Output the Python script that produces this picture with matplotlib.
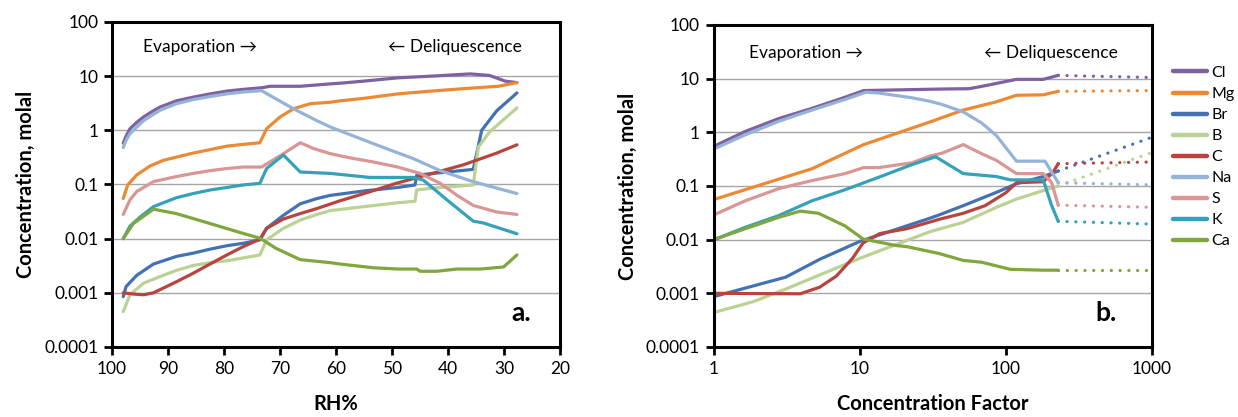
import matplotlib
matplotlib.use("Agg")
import matplotlib.pyplot as plt
from matplotlib.ticker import FixedLocator, FixedFormatter, NullLocator
from matplotlib.lines import Line2D

plt.rcParams['font.family'] = ['Lato', 'DejaVu Sans']

# ---------------- Panel a: concentration vs RH% ----------------
rh_cl = [98.0, 97.5, 96.8, 95.6, 94.4, 92.6, 91.4, 88.5, 85.5, 82.5, 79.5, 76.6, 73.3, 71.8, 66.4, 61.0, 59.3, 55.0, 49.0, 43.0, 36.0, 32.6, 29.8, 27.7]
cl_a = [0.58, 0.78, 1.07, 1.4, 1.76, 2.3, 2.7, 3.5, 4.1, 4.7, 5.3, 5.7, 6.1, 6.5, 6.5, 7.2, 7.4, 8.1, 9.3, 10.0, 11.0, 10.3, 8.1, 7.6]

rh_mg = [98.0, 97.2, 95.6, 93.2, 90.8, 88.5, 85.5, 82.5, 79.5, 76.6, 73.6, 72.4, 70.0, 67.6, 64.6, 61.0, 59.3, 55.0, 49.0, 43.0, 37.0, 31.0, 27.7]
mg_a = [0.055, 0.098, 0.15, 0.22, 0.28, 0.32, 0.38, 0.44, 0.51, 0.55, 0.59, 1.07, 1.76, 2.5, 3.1, 3.3, 3.5, 3.9, 4.7, 5.3, 5.9, 6.5, 7.6]

rh_br = [98.0, 97.5, 95.6, 92.6, 88.5, 85.5, 82.5, 79.5, 76.6, 73.6, 72.4, 69.4, 66.4, 63.4, 61.0, 55.0, 49.0, 45.9, 45.6, 43.2, 35.5, 34.0, 31.3, 27.7]
br_a = [0.00085, 0.0013, 0.0021, 0.0034, 0.0047, 0.0054, 0.0064, 0.0074, 0.0082, 0.0095, 0.0155, 0.027, 0.044, 0.055, 0.063, 0.076, 0.088, 0.098, 0.148, 0.158, 0.19, 1.0, 2.3, 4.9]

rh_b = [98.0, 96.8, 94.4, 91.4, 88.5, 85.5, 82.5, 79.5, 76.6, 73.6, 72.4, 69.4, 66.4, 63.4, 61.0, 55.0, 49.0, 45.9, 45.6, 43.2, 35.5, 34.6, 32.6, 27.7]
b_a = [0.00045, 0.00092, 0.0015, 0.002, 0.0026, 0.0032, 0.0036, 0.0039, 0.0044, 0.005, 0.0095, 0.0155, 0.022, 0.028, 0.033, 0.039, 0.046, 0.049, 0.079, 0.085, 0.098, 0.49, 0.93, 2.6]

rh_c = [98.0, 96.2, 94.4, 92.6, 88.5, 85.5, 82.5, 79.5, 76.6, 73.6, 72.4, 69.4, 66.4, 63.4, 59.3, 55.0, 49.0, 43.0, 37.3, 31.3, 27.7]
c_a = [0.001, 0.00095, 0.00092, 0.001, 0.0016, 0.0023, 0.0034, 0.005, 0.0071, 0.0098, 0.0155, 0.023, 0.029, 0.036, 0.05, 0.068, 0.107, 0.158, 0.23, 0.38, 0.54]

rh_na = [98.0, 97.5, 96.8, 94.4, 91.4, 88.5, 85.5, 82.5, 79.5, 76.6, 73.3, 71.8, 67.6, 63.4, 61.0, 59.3, 55.0, 51.5, 46.2, 41.4, 36.0, 32.6, 27.7]
na_a = [0.48, 0.65, 0.87, 1.5, 2.35, 3.1, 3.7, 4.2, 4.7, 5.1, 5.4, 4.4, 2.5, 1.5, 1.15, 0.98, 0.66, 0.48, 0.30, 0.18, 0.117, 0.093, 0.068]

rh_s = [98.0, 96.8, 95.6, 92.6, 88.5, 85.5, 82.5, 79.5, 76.6, 73.3, 69.4, 66.4, 64.0, 61.0, 57.5, 53.3, 49.0, 45.0, 41.4, 38.4, 35.5, 31.3, 27.7]
s_a = [0.028, 0.052, 0.074, 0.113, 0.14, 0.16, 0.18, 0.197, 0.21, 0.21, 0.37, 0.59, 0.46, 0.37, 0.31, 0.26, 0.21, 0.16, 0.105, 0.063, 0.041, 0.031, 0.028]

rh_k = [98.0, 96.8, 95.0, 92.6, 88.5, 85.5, 82.5, 79.5, 76.6, 73.6, 72.4, 69.4, 66.4, 61.0, 54.0, 46.2, 44.4, 40.2, 35.5, 33.7, 27.7]
k_a = [0.010, 0.017, 0.025, 0.039, 0.057, 0.068, 0.079, 0.088, 0.098, 0.105, 0.197, 0.35, 0.17, 0.16, 0.135, 0.135, 0.12, 0.052, 0.021, 0.0195, 0.0123]

rh_ca = [98.0, 96.2, 92.6, 88.5, 82.5, 76.6, 73.6, 70.7, 66.4, 61.0, 59.3, 53.3, 49.0, 45.6, 45.0, 42.0, 38.4, 34.2, 30.1, 27.7]
ca_a = [0.010, 0.019, 0.035, 0.029, 0.019, 0.0125, 0.0102, 0.0066, 0.0041, 0.0036, 0.0034, 0.0029, 0.00275, 0.00275, 0.0025, 0.0025, 0.00275, 0.00275, 0.003, 0.005]

# ---------------- Panel b: concentration vs concentration factor ----------------
cf_cl = [1, 1.64, 2.77, 4.7, 7.9, 10.6, 36, 56, 74, 118, 180, 228]
cl_b = [0.55, 1.04, 1.8, 2.8, 4.5, 6.0, 6.4, 6.5, 7.5, 9.7, 9.7, 11.5]

cf_mg = [1, 4.7, 10.6, 30, 51, 86, 118, 180, 228]
mg_b = [0.056, 0.21, 0.59, 1.55, 2.6, 3.7, 4.9, 5.0, 5.8]

cf_br = [1, 3.1, 5.3, 10, 30, 35, 51, 86, 118, 180, 228]
br_b = [0.00087, 0.002, 0.0043, 0.0093, 0.025, 0.029, 0.043, 0.076, 0.11, 0.15, 0.19]

cf_b = [1, 1.86, 3.1, 5.3, 10, 30, 51, 86, 118, 180, 228]
b_b = [0.00044, 0.0007, 0.0012, 0.0022, 0.0045, 0.014, 0.021, 0.040, 0.057, 0.082, 0.10]

cf_c = [1, 3.9, 5.3, 6.9, 8.9, 10.5, 13.7, 21, 35, 51, 72, 100, 118, 180, 210, 228]
c_b = [0.001, 0.00098, 0.0013, 0.0021, 0.0045, 0.0087, 0.013, 0.016, 0.024, 0.031, 0.043, 0.075, 0.115, 0.12, 0.18, 0.26]

cf_na = [1, 1.64, 2.77, 4.7, 7.9, 11, 13.4, 22.7, 30, 36.6, 51, 68, 86, 118, 185, 228]
na_b = [0.49, 0.9, 1.6, 2.6, 4.1, 5.6, 5.4, 4.4, 3.8, 3.3, 2.4, 1.5, 0.87, 0.29, 0.29, 0.115]

cf_s = [1, 1.64, 2.77, 3.8, 4.7, 7.9, 10.6, 13.4, 22.7, 30, 36.6, 51, 68, 86, 118, 180, 205, 228]
s_b = [0.029, 0.053, 0.089, 0.11, 0.126, 0.17, 0.22, 0.22, 0.27, 0.36, 0.41, 0.59, 0.40, 0.30, 0.17, 0.17, 0.117, 0.044]

cf_k = [1, 1.64, 2.77, 4.7, 7.9, 13.4, 22.7, 33, 51, 86, 107, 180, 205, 228]
k_b = [0.010, 0.017, 0.028, 0.053, 0.085, 0.145, 0.25, 0.35, 0.17, 0.15, 0.13, 0.13, 0.044, 0.022]

cf_ca = [1, 1.64, 2.77, 3.9, 5.2, 7.9, 10.5, 17.5, 21, 35, 51, 68, 107, 180, 228]
ca_b = [0.010, 0.016, 0.026, 0.034, 0.031, 0.018, 0.0103, 0.0078, 0.0074, 0.0055, 0.0041, 0.0038, 0.0028, 0.0027, 0.0027]

# dotted extrapolation from CF 228 to CF 1000 (end values)
cf_ext = [228, 1000]
ext_end = {'Cl': 10.5, 'Mg': 6.0, 'Br': 0.81, 'B': 0.42, 'C': 0.28,
           'Na': 0.105, 'S': 0.040, 'K': 0.0195, 'Ca': 0.0027}

species = ['Cl', 'Mg', 'Br', 'B', 'C', 'Na', 'S', 'K', 'Ca']
colors = ['#7E61A1', '#EC8935', '#4372B4', '#BAD294', '#B7443F',
          '#95B3D7', '#D99694', '#35A2BA', '#80A63E']

series_a = [(rh_cl, cl_a), (rh_mg, mg_a), (rh_br, br_a), (rh_b, b_a), (rh_c, c_a),
            (rh_na, na_a), (rh_s, s_a), (rh_k, k_a), (rh_ca, ca_a)]
series_b = [(cf_cl, cl_b), (cf_mg, mg_b), (cf_br, br_b), (cf_b, b_b), (cf_c, c_b),
            (cf_na, na_b), (cf_s, s_b), (cf_k, k_b), (cf_ca, ca_b)]

ytick_vals = [0.0001, 0.001, 0.01, 0.1, 1, 10, 100]
ytick_labels = ['0.0001', '0.001', '0.01', '0.1', '1', '10', '100']

LW = 2.3
TICKFS = 12.5

fig = plt.figure(figsize=(12.38, 4.17), dpi=100)
ax1 = fig.add_axes([0.0905, 0.1679, 0.3619, 0.7794])
ax2 = fig.add_axes([0.5767, 0.1679, 0.3538, 0.7722])


def style_axis(ax):
    ax.set_yscale('log')
    ax.set_ylim(0.0001, 100)
    ax.yaxis.set_major_locator(FixedLocator(ytick_vals))
    ax.yaxis.set_major_formatter(FixedFormatter(ytick_labels))
    ax.yaxis.set_minor_locator(NullLocator())
    ax.grid(axis='y', which='major', color='#A6A6A6', linewidth=1.0)
    ax.set_axisbelow(True)
    for sp in ax.spines.values():
        sp.set_linewidth(2.2)
        sp.set_color('black')
    ax.tick_params(axis='both', which='major', direction='out', length=6, width=2.0,
                   labelsize=TICKFS, pad=4)
    ax.set_ylabel('Concentration, molal', fontsize=14.5, fontweight='bold', labelpad=6)


# Panel a
for (x, y), col in zip(series_a, colors):
    ax1.plot(x, y, color=col, lw=LW, solid_joinstyle='round', solid_capstyle='round')
style_axis(ax1)
ax1.set_xlim(100, 20)
ax1.xaxis.set_major_locator(FixedLocator([100, 90, 80, 70, 60, 50, 40, 30, 20]))
ax1.set_xlabel('RH%', fontsize=14.5, fontweight='bold', labelpad=12)
ax1.text(0.07, 0.922, 'Evaporation \u2192', transform=ax1.transAxes, fontsize=12.5,
         va='center', ha='left', family=['Lato', 'DejaVu Sans'])
ax1.text(0.915, 0.922, '\u2190 Deliquescence', transform=ax1.transAxes, fontsize=12.5,
         va='center', ha='right', family=['Lato', 'DejaVu Sans'])
ax1.text(0.935, 0.105, 'a.', transform=ax1.transAxes, fontsize=19, fontweight='bold',
         va='center', ha='right')

# Panel b
handles = []
for (x, y), col, name in zip(series_b, colors, species):
    ax2.plot(x, y, color=col, lw=LW, solid_joinstyle='round', solid_capstyle='round')
    ax2.plot(cf_ext, [y[-1], ext_end[name]], color=col, lw=LW,
             linestyle=(0, (0.05, 2.7)), dash_capstyle='round')
    handles.append(Line2D([0], [0], color=col, lw=3.2, solid_capstyle='round'))
style_axis(ax2)
ax2.set_xscale('log')
ax2.set_xlim(1, 1000)
ax2.xaxis.set_major_locator(FixedLocator([1, 10, 100, 1000]))
ax2.xaxis.set_major_formatter(FixedFormatter(['1', '10', '100', '1000']))
ax2.xaxis.set_minor_locator(NullLocator())
ax2.set_xlabel('Concentration Factor', fontsize=14.5, fontweight='bold', labelpad=12)
ax2.text(0.08, 0.912, 'Evaporation \u2192', transform=ax2.transAxes, fontsize=12.5,
         va='center', ha='left', family=['Lato', 'DejaVu Sans'])
ax2.text(0.922, 0.912, '\u2190 Deliquescence', transform=ax2.transAxes, fontsize=12.5,
         va='center', ha='right', family=['Lato', 'DejaVu Sans'])
ax2.text(0.92, 0.105, 'b.', transform=ax2.transAxes, fontsize=19, fontweight='bold',
         va='center', ha='right')

fig.legend(handles, species, loc='upper left', bbox_to_anchor=(0.9475, 0.842),
           frameon=False, fontsize=11.5, handlelength=2.1, handletextpad=0.3,
           labelspacing=0.43, borderaxespad=0, borderpad=0)

fig.savefig('out.png', dpi=100)
